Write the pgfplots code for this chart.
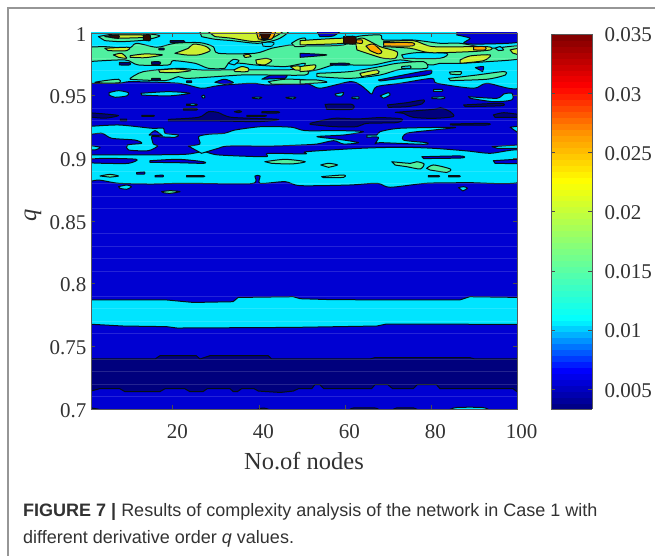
\documentclass[border=0pt]{standalone}
\usepackage{pgfplots}
\pgfplotsset{compat=1.18}
\usepackage{fontspec}
\setmainfont{Liberation Serif}
\newfontfamily\capfont{Liberation Sans}
\definecolor{nv}{RGB}{0,0,125}
\definecolor{bl}{RGB}{0,0,210}
\definecolor{cy}{RGB}{0,228,255}
\definecolor{gr}{RGB}{80,240,160}
\definecolor{yg}{RGB}{205,240,50}
\definecolor{or}{RGB}{255,170,0}
\definecolor{dk}{RGB}{50,10,0}
\definecolor{ln}{RGB}{5,15,20}
\definecolor{tx}{RGB}{50,50,50}
\definecolor{fr}{RGB}{150,150,150}
\pgfplotsset{
 L/.style={fill=#1,draw=ln,line width=1pt,line join=round,mark=none,solid,smooth,tension=0.45},
}
\begin{document}
\begin{tikzpicture}[x=1pt,y=1pt]
\useasboundingbox (0,0) rectangle (655,556);
\draw[fr,line width=1.2pt] (8,0) -- (8,548) -- (655,548);
\node[anchor=base west,text=tx,font=\capfont\fontsize{18}{21}\selectfont,inner sep=0] at (23,39) {\textbf{FIGURE 7 |} Results of complexity analysis of the network in Case 1 with};
\node[anchor=base west,text=tx,font=\capfont\fontsize{18}{21}\selectfont,inner sep=0] at (23,12) {different derivative order \textit{q} values.};
\begin{axis}[
 at={(91pt,147pt)},anchor=south west,scale only axis,width=426pt,height=376pt,
 xmin=1,xmax=100,ymin=0.7,ymax=1,axis on top,clip=true,
 axis line style={draw=black!65,line width=0.8pt},
 tick style={draw=black!70,line width=0.6pt},tick align=inside,major tick length=4pt,
 minor y tick num=4,yminorgrids,minor tick length=0pt,
 minor grid style={white,opacity=0.14,line width=0.6pt},
 xtick={20,40,60,80,100},xticklabels={20,40,60,80,100},
 ytick={0.7,0.75,0.8,0.85,0.9,0.95,1},yticklabels={0.7,0.75,0.8,0.85,0.9,0.95,1},
 ticklabel style={font=\fontsize{21}{24}\selectfont,text=tx},
 xticklabel style={xshift=4.5pt,yshift=-12pt},
 yticklabel style={xshift=-1pt,yshift=-1.5pt},
 xlabel={No.of nodes},ylabel={\textit{q}},
 label style={font=\fontsize{24.5}{28}\selectfont,text=tx},
 xlabel style={at={(axis description cs:0.5,-0.138)},anchor=center},
 ylabel style={at={(axis description cs:-0.136,0.516)},anchor=center},
 colormap={cb}{rgb255(0pt)=(0,0,125); rgb255(104pt)=(0,0,255); rgb255(240pt)=(0,255,255); rgb255(610pt)=(255,255,0); rgb255(735pt)=(255,150,0); rgb255(860pt)=(255,0,0); rgb255(1000pt)=(125,0,0)},
 point meta min=0.00333,point meta max=0.035,
 colorbar,colorbar sampled,
 colorbar style={at={(1.0798,0)},anchor=south west,width=41pt,height=375pt,samples=64,
   ytick={0.005,0.01,0.015,0.02,0.025,0.03,0.035},yticklabels={0.005,0.01,0.015,0.02,0.025,0.03,0.035},
   ymin=0.00333,ymax=0.035,scaled y ticks=false,
   yticklabel pos=right,tick align=inside,major tick length=4pt,
   axis line style={draw=black!65,line width=0.8pt},
   yticklabel style={xshift=9pt,yshift=-1pt}},
]
% base level
\addplot[fill=bl,draw=none,mark=none] coordinates {(1,.7)(100,.7)(100,1)(1,1)} -- cycle;
% navy band, q 0.714 to 0.742
\addplot[fill=nv,draw=ln,line width=1pt,line join=round,mark=none] coordinates {(0,.7399)(15.9,.7399)(17,.7425)(25.5,.7425)(26.3,.7399)(28.6,.7425)(42.2,.7425)(43,.7399)(65.8,.7399)(67,.741)(89,.741)(90.2,.7399)(101,.7399)(101,.7138)(100,.7138)(99.1,.7162)(82.1,.7162)(81.3,.7194)(76.8,.7194)(75.9,.7162)(71.1,.7162)(70,.7194)(67,.7194)(66.2,.7162)(55.1,.7162)(54.2,.7194)(53,.7194)(52.3,.7162)(49.2,.7162)(48,.7143)(45,.7132)(39.9,.7143)(38.9,.7162)(36,.7162)(35,.7138)(34.1,.7138)(33.3,.7162)(28,.7162)(27,.7138)(24,.7138)(22.8,.7162)(18.2,.7162)(17,.7138)(8.9,.7138)(7.7,.7162)(3,.7162)(1,.7143)(0,.7143)} -- cycle;
% bottom edge strips
\addplot[L=cy] coordinates {(84,.699)(86,.7012)(92,.7012)(93.7,.699)} -- cycle;
\addplot[L=nv] coordinates {(0,.699)(1,.7008)(4,.699)} -- cycle;
\addplot[L=nv] coordinates {(39,.699)(41,.7008)(43,.699)} -- cycle;
\addplot[L=nv] coordinates {(61,.699)(62,.7008)(67,.7008)(68,.699)} -- cycle;
\addplot[L=nv] coordinates {(71,.699)(72,.7008)(76,.7008)(77,.699)} -- cycle;
% cyan band
\addplot[fill=cy,draw=ln,line width=1pt,line join=round,mark=none] coordinates {(0,.787)(18.6,.787)(24.8,.785)(34,.7856)(35.2,.789)(48,.7896)(49.6,.788)(57.3,.7872)(86.7,.787)(89,.7896)(101,.789)(101,.7675)(69.7,.7678)(67.4,.7662)(48,.7651)(21,.7646)(18.6,.7657)(8.5,.7662)(0,.7678)} -- cycle;
% spots near 0.875
\addplot[L=cy] coordinates {(7.4,.8774)(9.3,.8787)(10.4,.8774)(9.3,.8753)(7.7,.8761)} -- cycle;
\addplot[L=gr] coordinates {(17.4,.8734)(19.4,.8742)(21.7,.8734)(19.4,.8721)(17.8,.8726)} -- cycle;
\addplot[L=cy] coordinates {(86.4,.8766)(87.6,.8774)(88.5,.8761)(87.4,.874)} -- cycle;
% main cyan region
\addplot[L=cy] coordinates {(0,.9027)(11.2,.9027)(22.9,.9032)(27.1,.9053)(30.6,.9027)(41.5,.9013)(42.1,.904)(50.8,.9035)(51.1,.9053)(63.6,.908)(72.9,.9088)(80.6,.908)(88.4,.9059)(93.8,.904)(101,.9059)(101,.8814)(88.3,.8806)(79,.8801)(70.5,.8769)(67.5,.8801)(61,.8787)(49.6,.8782)(46.1,.8814)(40.3,.88)(40.3,.8859)(39.1,.8859)(38.3,.8798)(22.8,.8801)(15.1,.8795)(7.4,.8801)(2.7,.8827)(0,.8806)} -- cycle;
% blue holes in it
\addplot[L=bl] coordinates {(0,.8992)(4.2,.9)(11.6,.8992)(9.7,.896)(4.2,.896)(0,.8965)} -- cycle;
\addplot[L=bl] coordinates {(14.7,.8981)(21.3,.8992)(27.1,.8973)(27.1,.896)(21.3,.8965)(14.7,.8968)} -- cycle;
\addplot[L=bl] coordinates {(77.9,.9013)(86.8,.9019)(87.2,.9003)(78.3,.8998)} -- cycle;
\addplot[L=bl] coordinates {(94.5,.8981)(101,.8992)(101,.896)(94.9,.896)} -- cycle;
\addplot[L=bl] coordinates {(11.6,.8886)(13.4,.8891)(13.4,.8875)(11.6,.8875)} -- cycle;
\addplot[L=bl] coordinates {(15.9,.8862)(17.7,.8866)(17.7,.8852)(15.9,.8852)} -- cycle;
\addplot[L=bl] coordinates {(23.2,.8862)(27.1,.8862)(27.1,.8852)(23.2,.8852)} -- cycle;
\addplot[L=bl] coordinates {(79.4,.8862)(81.8,.8862)(81.8,.8852)(79.4,.8852)} -- cycle;
\addplot[L=bl] coordinates {(84.1,.8862)(86.6,.8862)(86.6,.8852)(84.1,.8852)} -- cycle;
% green islands in it
\addplot[L=gr] coordinates {(3.1,.8859)(5.4,.8872)(7.4,.8859)(5.4,.885)} -- cycle;
\addplot[L=gr] coordinates {(41.4,.8973)(46.1,.8992)(50.8,.8973)(47.6,.8955)(43,.896)} -- cycle;
\addplot[L=gr] coordinates {(70.9,.8973)(75.2,.896)(76.7,.8973)(78.4,.8955)(77.5,.8915)(74.4,.8933)(71.7,.8946)} -- cycle;
\addplot[L=gr] coordinates {(79,.892)(80.6,.8947)(84.5,.8915)(83.7,.8888)(79.8,.8907)} -- cycle;
\addplot[L=gr] coordinates {(54.4,.8947)(56.2,.896)(58.3,.8947)(56.2,.8928)} -- cycle;
\addplot[L=gr] coordinates {(54.6,.8854)(59.7,.8867)(59.7,.8848)(55,.8846)} -- cycle;
% cyan lobes above
\addplot[L=cy] coordinates {(0,.9253)(7.4,.9266)(15.1,.924)(17.8,.924)(18.2,.92)(21.3,.9186)(20.5,.9168)(16.3,.9173)(15.1,.9173)(15.5,.9114)(16.5,.9098)(14.3,.9061)(9.7,.9067)(9.5,.9107)(12.8,.912)(11.2,.9146)(5.8,.916)(3.5,.92)(0,.9186)} -- cycle;
\addplot[L=bl] coordinates {(14.5,.9186)(15.9,.9221)(17.6,.9178)} -- cycle;
\addplot[L=cy] coordinates {(0,.9106)(3.1,.9088)(1.9,.9067)(0,.9072)} -- cycle;
\addplot[L=cy] coordinates {(23.6,.9098)(26.3,.9114)(26,.9173)(28.3,.9192)(32.1,.92)(34.5,.9226)(40.7,.9253)(47.6,.9248)(50.8,.9221)(58.9,.9221)(64.3,.9213)(59.7,.9186)(53.5,.9173)(58.9,.915)(63.2,.9125)(59.7,.9114)(57.4,.9141)(53.5,.9114)(49.6,.9106)(43,.9098)(32.9,.9098)(30.6,.908)(26.7,.904)} -- cycle;
\addplot[L=cy] coordinates {(65.1,.9186)(67.4,.9186)(68.2,.9213)(72.9,.924)(85.6,.9247)(80.6,.9226)(74.4,.92)(73.6,.9146)(79,.9125)(78.3,.9112)(68.2,.9125)(67,.9114)(67.8,.9168)(65.1,.9168)} -- cycle;
\addplot[L=cy] coordinates {(98.4,.9248)(101,.9253)(101,.9186)} -- cycle;
\addplot[L=cy] coordinates {(94.2,.9093)(101,.9106)(101,.908)(95.4,.908)} -- cycle;
% navy islands near 0.93
\addplot[L=nv] coordinates {(0,.9365)(4.2,.9354)(7.4,.9341)(4.2,.932)(0,.9333)} -- cycle;
\addplot[L=nv] coordinates {(19,.9311)(26,.9327)(28.3,.9372)(30.6,.9365)(33.7,.9327)(44.5,.9311)(39.9,.9293)(30.6,.9298)(19,.9298)} -- cycle;
\addplot[L=nv] coordinates {(12.8,.9343)(15.5,.9343)(15.5,.9335)(12.8,.9335)} -- cycle;
\addplot[L=nv] coordinates {(37.2,.9343)(41.4,.9343)(41.4,.9335)(37.2,.9335)} -- cycle;
\addplot[L=nv] coordinates {(40.7,.9372)(44.5,.9372)(44.5,.9362)(40.7,.9362)} -- cycle;
\addplot[L=nv] coordinates {(34.3,.9372)(35.4,.938)(36,.9372)(35.2,.9364)} -- cycle;
\addplot[L=nv] coordinates {(7.8,.9312)(9.3,.9312)(9.3,.93)(7.8,.93)} -- cycle;
\addplot[L=nv] coordinates {(22.5,.9397)(25.5,.9397)(25.5,.9385)(22.5,.9385)} -- cycle;
\addplot[L=nv] coordinates {(51.9,.9279)(57.4,.9319)(62.8,.9314)(68.2,.9325)(73.2,.9314)(72.1,.9285)(65.1,.9279)(62.8,.9253)(57.4,.9253)(51.9,.9271)} -- cycle;
\addplot[L=nv] coordinates {(71.7,.9367)(80.6,.9391)(82.2,.9404)(84.5,.9372)(85.2,.9333)(80.6,.9319)(75.9,.9327)(73.6,.9359)} -- cycle;
\addplot[L=nv] coordinates {(55.4,.9431)(61.6,.9431)(61.6,.9391)(55.8,.9391)} -- cycle;
\addplot[L=nv] coordinates {(69.9,.9426)(74.4,.9444)(78.3,.9466)(77.9,.9434)(74.4,.9412)(70.1,.9407)} -- cycle;
\addplot[L=nv] coordinates {(87.6,.9426)(96.1,.9439)(96.5,.942)(88,.9412)} -- cycle;
\addplot[L=nv] coordinates {(94.5,.9346)(96.9,.9364)(101,.9346)(101,.9327)(94.9,.9327)} -- cycle;
\addplot[L=nv] coordinates {(84.5,.9274)(93,.9279)(93,.9266)(84.5,.9266)} -- cycle;
% cyan islands near 0.95
\addplot[L=cy] coordinates {(5.2,.9524)(7.4,.954)(9.7,.9524)(9.3,.9498)(6.6,.9487)(5.2,.9505)} -- cycle;
\addplot[L=cy] coordinates {(12.6,.9519)(19,.9532)(24,.9519)(19,.9498)(12.8,.9505)} -- cycle;
\addplot[L=cy] coordinates {(26.7,.9495)(27.2,.9505)(27.5,.9487)(27,.948)} -- cycle;
\addplot[L=cy] coordinates {(38.5,.9487)(40.7,.9487)(40,.9475)(38.5,.948)} -- cycle;
\addplot[L=cy] coordinates {(46.3,.9487)(48.6,.9487)(48,.9475)(46.5,.948)} -- cycle;
\addplot[L=cy] coordinates {(23.2,.9433)(25.5,.9433)(25.5,.9422)(23.2,.9422)} -- cycle;
\addplot[L=cy] coordinates {(57.7,.9513)(59.7,.9524)(59.3,.9498)(58,.9498)} -- cycle;
\addplot[L=cy] coordinates {(61.6,.9487)(63.2,.949)(63.2,.9475)(61.6,.9478)} -- cycle;
\addplot[L=cy] coordinates {(68.2,.9498)(70.1,.9524)(70.5,.9505)(69,.9479)} -- cycle;
\addplot[L=cy] coordinates {(80.6,.955)(82.6,.955)(82.6,.9535)(80.6,.9535)} -- cycle;
\addplot[L=cy] coordinates {(80.2,.9487)(83,.949)(83,.9476)(80.2,.9476)} -- cycle;
\addplot[L=cy] coordinates {(88.7,.9492)(95.3,.9479)(96.9,.9513)(98.8,.9519)(98.8,.9466)(94.5,.9452)(89.1,.9479)} -- cycle;
% top cyan region
\addplot[L=cy] coordinates {(0,.9599)(7.4,.9599)(10.4,.9612)(21.3,.9599)(26.7,.9559)(30.6,.958)(38.4,.9599)(42.2,.9585)(50.8,.9599)(54.2,.9559)(61.2,.9612)(63.6,.9585)(65.5,.9532)(66.3,.9513)(67.4,.9572)(72.9,.9599)(80.2,.9638)(81.4,.9599)(89.9,.9559)(93,.9599)(101,.9572)(101,1.004)(0,1.004)} -- cycle;
% blue holes in the top region
\addplot[L=bl] coordinates {(29.8,.9607)(32,.9631)(34.1,.9604)(32,.959)} -- cycle;
\addplot[L=bl] coordinates {(40.7,.9631)(43,.9665)(46.5,.9665)(46.1,.9638)} -- cycle;
\addplot[L=bl] coordinates {(67.8,.9625)(79,.97)(80.2,.9692)(79,.9665)(68.2,.9617)} -- cycle;
\addplot[L=bl] coordinates {(86,1.004)(101,1.004)(101,.9931)(92.2,.9912)(87.6,.9918)(89.1,.9958)(86,.9984)} -- cycle;
\addplot[L=bl] coordinates {(53.1,1.004)(59.3,1.004)(57.4,.9977)(54.2,.9971)} -- cycle;
\addplot[L=bl] coordinates {(90.3,.9724)(92.2,.9732)(92,.9692)} -- cycle;
% green levels
\addplot[L=gr] coordinates {(0,.9886)(4.2,.9891)(9.7,.9878)(11.6,.9918)(16.3,.9886)(20.5,.9918)(26.3,.9923)(29.4,.9891)(30.6,.9838)(39.1,.9838)(43,.9878)(47.3,.9904)(49.6,.9897)(59.7,.9904)(62.8,.9971)(68.2,.9984)(69,.9944)(75.9,.9944)(82.1,.9918)(86.8,.9918)(93.8,.9878)(101,.9897)(101,.9798)(93,.9771)(86.8,.9758)(82.1,.9758)(79.8,.9745)(72.9,.9785)(66.6,.9745)(61.2,.9745)(57.4,.9745)(53.5,.9705)(49.6,.9692)(50.8,.9758)(46.1,.9732)(39.1,.9745)(36,.9758)(32.9,.9758)(32.1,.9718)(28.3,.9718)(25.2,.9758)(20.1,.9779)(19,.9745)(12,.9745)(8.9,.9785)(0,.9771)} -- cycle;
\addplot[L=gr] coordinates {(10.1,.9638)(13.2,.9692)(21.3,.9718)(26.3,.9705)(32.9,.9705)(39.1,.9705)(43.8,.9705)(50.8,.9705)(50.8,.9665)(41.4,.9665)(36,.9665)(23.6,.9638)(21.3,.9652)(18.2,.962)(10.1,.963)} -- cycle;
\addplot[L=gr] coordinates {(1.9,.9607)(4.2,.962)(7.4,.9631)(7.7,.9604)(4.2,.9599)} -- cycle;
\addplot[L=gr] coordinates {(42.2,.9612)(46.1,.9631)(50.8,.9625)(50.8,.9593)(43,.9593)} -- cycle;
\addplot[L=gr] coordinates {(53.5,.9678)(61.2,.9692)(68.2,.9732)(72.1,.9758)(78.3,.9771)(79,.9718)(72.9,.971)(68.2,.9665)(61.2,.9638)(53.5,.9652)} -- cycle;
\addplot[L=gr] coordinates {(84.1,.9638)(90.7,.9665)(96.9,.9692)(97.3,.9665)(93,.9631)(84.5,.962)} -- cycle;
\addplot[L=gr] coordinates {(49.6,.9625)(53.5,.9625)(55.8,.9607)(49.6,.9593)} -- cycle;
\addplot[L=gr] coordinates {(84.3,.9688)(87,.9692)(86.8,.9668)(84.5,.9672)} -- cycle;
\addplot[L=gr] coordinates {(2.7,.9971)(6.6,.9992)(14.3,.9992)(17,.9976)(13.6,.9944)(8.1,.9931)(4.2,.9939)} -- cycle;
\addplot[L=gr] coordinates {(26,1.004)(46.1,1.004)(44.9,.9958)(39.9,.9918)(33.7,.9939)(29.8,.995)(26.7,.9971)} -- cycle;
\addplot[L=gr] coordinates {(47.6,.9918)(49.2,.995)(50.8,.9958)(50.8,.9897)(48.4,.9891)} -- cycle;
% cyan and navy holes in the green
\addplot[L=cy] coordinates {(32.9,.9758)(34.1,.979)(35.4,.9779)(34.3,.9745)} -- cycle;
\addplot[L=cy] coordinates {(73.2,.9825)(76.7,.9843)(83.7,.9838)(82.1,.9798)(73.6,.9798)} -- cycle;
\addplot[L=cy] coordinates {(94.9,.9878)(96.1,.9891)(96.9,.9865)(95.7,.986)} -- cycle;
\addplot[L=cy] coordinates {(73.2,.9732)(75.2,.9737)(75.2,.9718)(73.2,.9718)} -- cycle;
\addplot[L=cy] coordinates {(40.7,.9925)(43.5,.9925)(43,.9895)(41,.9895)} -- cycle;
\addplot[L=bl] coordinates {(49.6,.9838)(55.8,.9825)(49.6,.9806)} -- cycle;
\addplot[L=nv] coordinates {(19.4,.9939)(22.5,.9939)(22.5,.9925)(19.4,.9925)} -- cycle;
\addplot[L=nv] coordinates {(16.8,.9878)(18,.9878)(18,.9866)(16.8,.9866)} -- cycle;
\addplot[L=nv] coordinates {(7.6,.9765)(10,.9765)(10,.9745)(7.6,.9745)} -- cycle;
\addplot[L=nv] coordinates {(15.1,.977)(17,.977)(17,.975)(15.1,.975)} -- cycle;
\addplot[L=nv] coordinates {(15.1,.9638)(17,.9638)(17,.9625)(15.1,.9625)} -- cycle;
\addplot[L=nv] coordinates {(56.6,.9758)(60.8,.9758)(60.8,.9745)(56.6,.9745)} -- cycle;
\addplot[L=nv] coordinates {(23.2,.9617)(24.4,.9617)(24.4,.9605)(23.2,.9605)} -- cycle;
% yellow level
\addplot[L=yg] coordinates {(4.2,.9971)(6.6,.9984)(12.8,.9984)(13.6,.9965)(7.4,.9958)} -- cycle;
\addplot[L=yg] coordinates {(27.1,1.004)(45.3,1.004)(43,.9958)(39.1,.9931)(33.7,.9958)(29.8,.9971)} -- cycle;
\addplot[L=yg] coordinates {(49.6,.9939)(59.7,.9958)(59.7,.9918)(49.6,.9905)} -- cycle;
\addplot[L=yg] coordinates {(20.5,.9838)(23.6,.9878)(24.8,.9912)(27.5,.9896)(28.7,.9859)(26,.9825)(22.9,.9825)} -- cycle;
\addplot[L=yg] coordinates {(6.2,.9825)(8.1,.9838)(9.3,.9798)(7.4,.9806)} -- cycle;
\addplot[L=yg] coordinates {(10.1,.9819)(13.6,.9833)(17.6,.9825)(13.6,.9803)(10.1,.9806)} -- cycle;
\addplot[L=yg] coordinates {(4.2,.9878)(9.7,.9886)(9.3,.9859)(5,.9859)} -- cycle;
\addplot[L=yg] coordinates {(16.7,.9705)(20.5,.9713)(24.2,.97)(20.5,.9684)(17,.9686)} -- cycle;
\addplot[L=yg] coordinates {(36.4,.9822)(37.6,.983)(38.2,.9812)(36.8,.9805)} -- cycle;
\addplot[L=yg] coordinates {(39.3,.9785)(41.8,.9798)(43,.9779)(41.4,.9745)(39.5,.9753)} -- cycle;
\addplot[L=yg] coordinates {(34.2,.9705)(36,.9732)(37.6,.9718)(37.4,.9692)(34.5,.9692)} -- cycle;
\addplot[L=yg] coordinates {(47.3,.9732)(49.2,.9737)(50.8,.9718)(50.8,.97)(48.4,.9705)} -- cycle;
\addplot[L=yg] coordinates {(62.4,.9944)(64.3,.9958)(68.2,.9891)(72.1,.9851)(71.7,.9798)(69,.9798)(66.3,.9825)(62.8,.9865)} -- cycle;
\addplot[L=yg] coordinates {(69,.9931)(75.9,.9939)(80.6,.9891)(93,.9891)(93.8,.9865)(89.1,.9851)(79.8,.9843)(75.2,.9878)(69,.9891)} -- cycle;
\addplot[L=yg] coordinates {(86.8,.9785)(89.1,.9817)(93.8,.9825)(92.2,.9779)(86.8,.9758)} -- cycle;
\addplot[L=yg] coordinates {(63.5,.9678)(67.4,.9705)(67.8,.9678)(63.9,.9652)} -- cycle;
\addplot[L=yg] coordinates {(49.6,.9732)(53.1,.9745)(52.7,.9705)(49.6,.9692)} -- cycle;
\addplot[L=yg] coordinates {(98.4,.9865)(101,.9878)(101,.9825)(99,.984)} -- cycle;
% orange and darkest level
\addplot[L=or] coordinates {(64.9,.9896)(66.6,.9912)(68.6,.9851)(67.8,.9833)(65.9,.9859)} -- cycle;
\addplot[L=or] coordinates {(39.1,1.004)(43.8,1.004)(43,.9952)(39.9,.9952)} -- cycle;
\addplot[L=or] coordinates {(69,.9923)(75.6,.9923)(75.6,.9897)(69,.9897)} -- cycle;
\addplot[L=or] coordinates {(89.9,.9891)(92.6,.9891)(92.6,.9865)(89.9,.9865)} -- cycle;
\addplot[L=or] coordinates {(62.4,.9944)(64,.9944)(64,.9918)(62.8,.992)} -- cycle;
\addplot[L=dk] coordinates {(5.4,.9977)(7.4,.9984)(7.4,.9958)(5.4,.9965)} -- cycle;
\addplot[L=dk] coordinates {(13.2,.9984)(14.7,.9984)(14.7,.9939)(13.2,.9944)} -- cycle;
\addplot[L=dk] coordinates {(39.9,1.004)(43,1.004)(42.2,.9958)(40.7,.9958)} -- cycle;
\addplot[L=dk] coordinates {(59.7,.9971)(62.4,.9971)(62.4,.9912)(59.7,.9918)} -- cycle;
\end{axis}
\end{tikzpicture}
\end{document}
